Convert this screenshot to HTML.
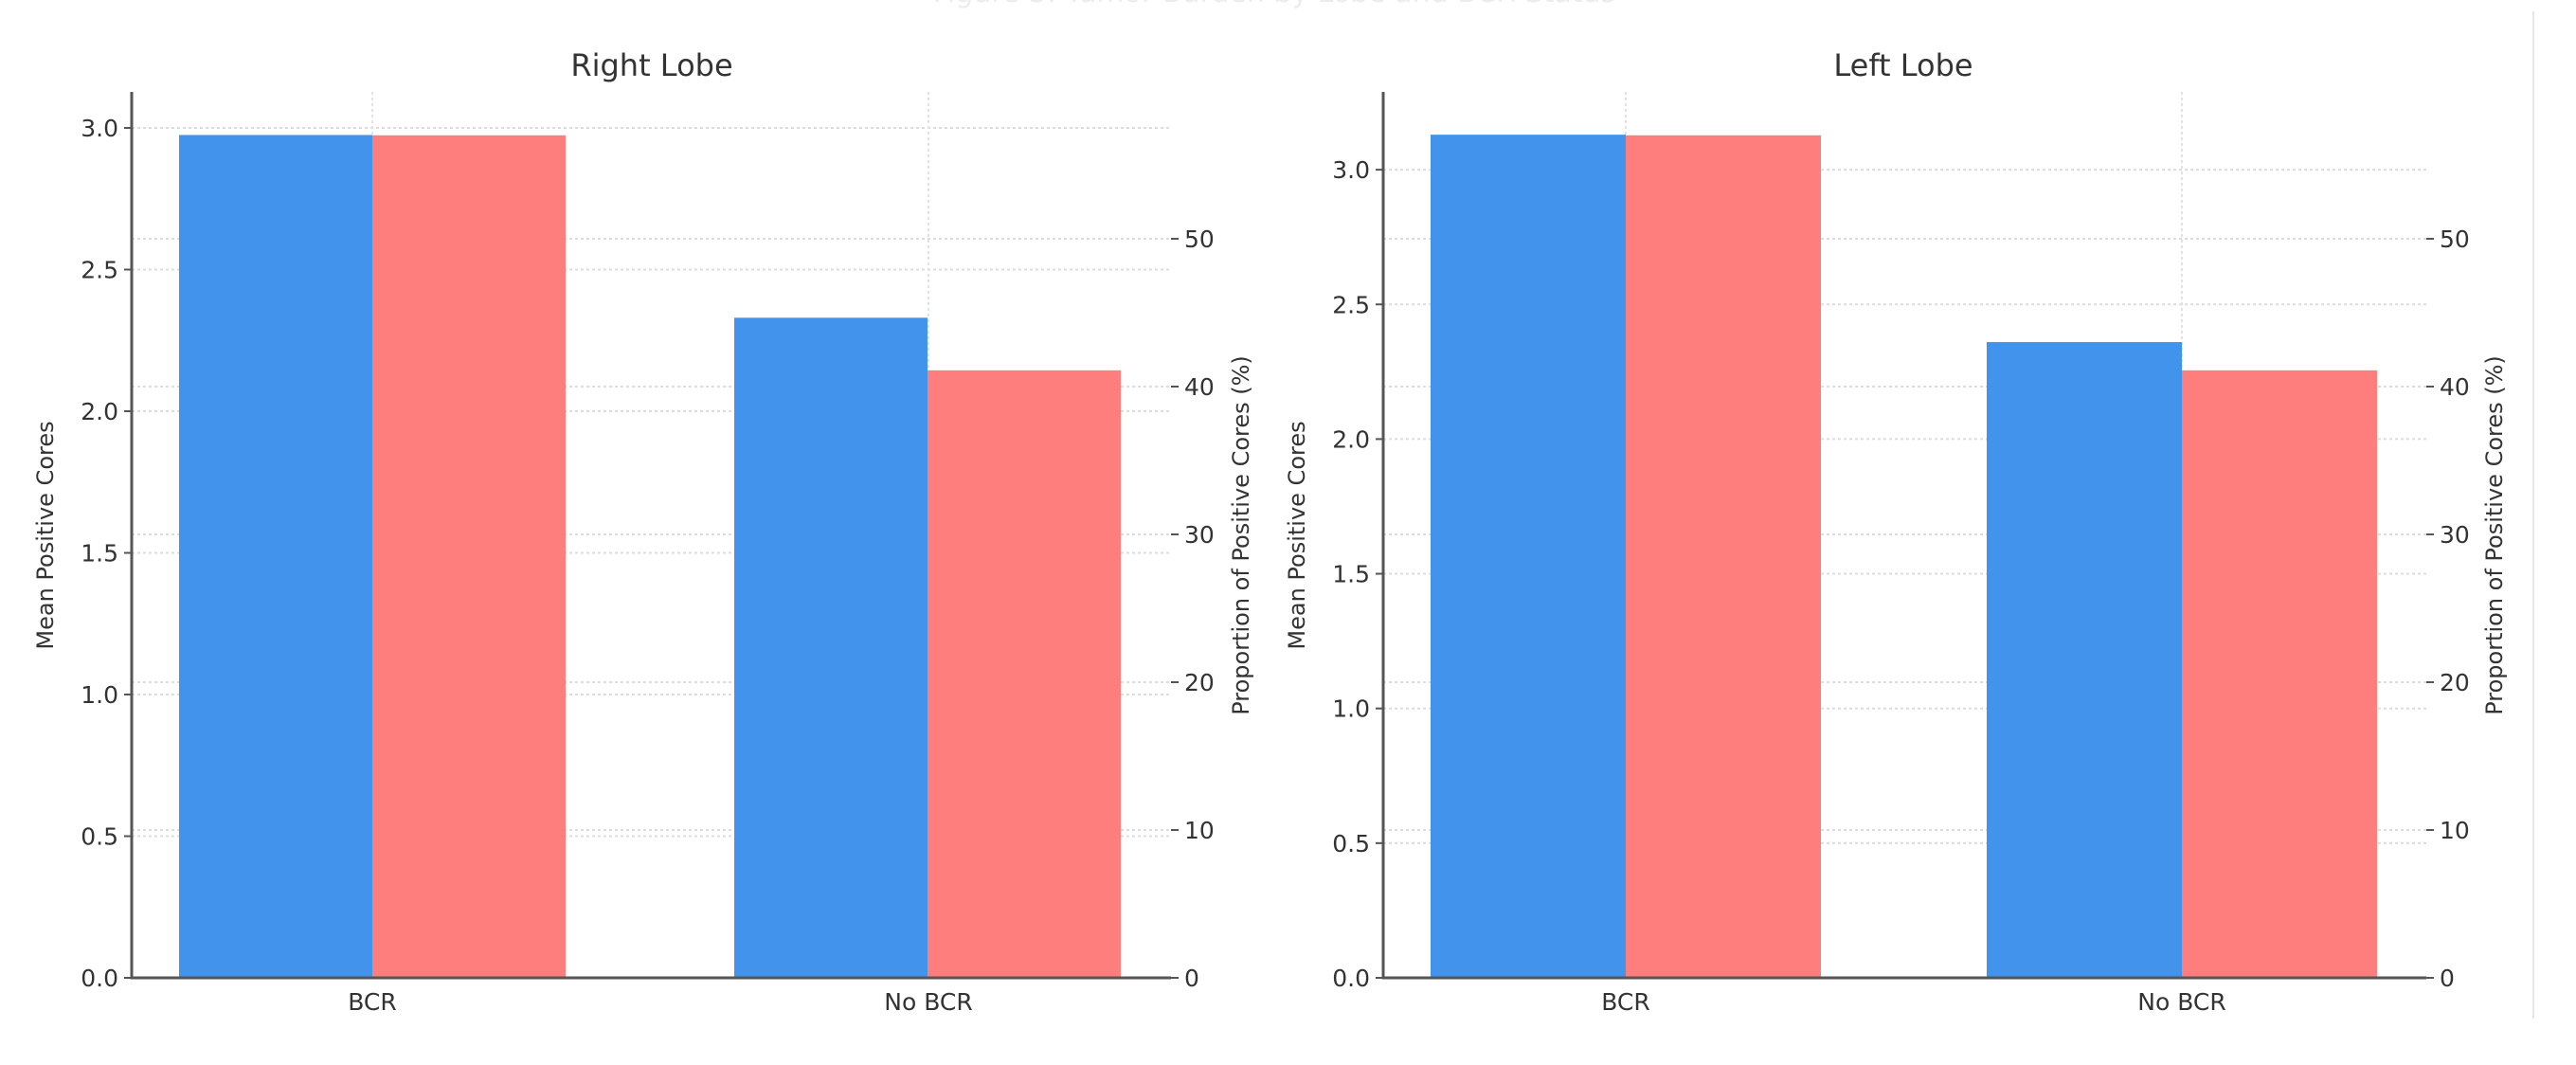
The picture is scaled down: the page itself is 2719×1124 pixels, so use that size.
<!DOCTYPE html>
<html><head><meta charset="utf-8"><style>
html,body{margin:0;padding:0;background:#fff;}
svg{display:block;font-family:"DejaVu Sans","Liberation Sans",sans-serif;}
</style></head><body>
<svg id="chart" width="2719" height="1124" viewBox="0 0 2719 1124">
<text x="1345" y="2" text-anchor="middle" font-size="30" fill="#ececec">Figure 3: Tumor Burden by Lobe and BCR Status</text>
<line x1="2674" y1="12" x2="2674" y2="1075" stroke="#e6e6e6" stroke-width="2"/>
</svg>
<script>
const categories = ["BCR", "No BCR"];
const panelTitles = ["Right Lobe", "Left Lobe"];
const meanRight = [2.975, 2.33];
const pctRight = [57.0, 41.1];
const meanLeft = [3.13, 2.36];
const pctLeft = [57.0, 41.1];
const leftTicks = [0, 0.5, 1.0, 1.5, 2.0, 2.5, 3.0];
const leftTickLabels = ["0.0", "0.5", "1.0", "1.5", "2.0", "2.5", "3.0"];
const rightTicks = [0, 10, 20, 30, 40, 50];
const rightTickLabels = ["0", "10", "20", "30", "40", "50"];

const NS = "http://www.w3.org/2000/svg";
const svg = document.getElementById("chart");
function mk(tag, attrs, parent) {
  const e = document.createElementNS(NS, tag);
  for (const k in attrs) e.setAttribute(k, attrs[k]);
  (parent || svg).appendChild(e);
  return e;
}

const panels = [
  {x0: 139, x1: 1236, top: 97, bottom: 1032, pxUnit: 299, pxPct: 15.6, mean: meanRight, pct: pctRight, barL: [189, 775], barW: 204, catX: [393, 980], titleX: 688, ylabX: 48, y2labX: 1310, key: "right-lobe"},
  {x0: 1460, x1: 2561, top: 97, bottom: 1032, pxUnit: 284.3, pxPct: 15.6, mean: meanLeft, pct: pctLeft, barL: [1510, 2097], barW: 206, catX: [1716, 2303], titleX: 2009, ylabX: 1369, y2labX: 2633, key: "left-lobe"}
];

panels.forEach((p, pi) => {
  const g = mk("g", {});
  
  
  const yL = v => p.bottom - v * p.pxUnit;
  const yR = v => p.bottom - v * p.pxPct;

  leftTicks.forEach(t => {
    const l = mk("line", {x1: p.x0, x2: p.x1, y1: yL(t), y2: yL(t), stroke: "#dcdcdc", "stroke-width": 2, "stroke-dasharray": "3,3"}, g);
    
    
  });
  rightTicks.forEach(t => {
    const l = mk("line", {x1: p.x0, x2: p.x1, y1: yR(t), y2: yR(t), stroke: "#dcdcdc", "stroke-width": 2, "stroke-dasharray": "3,3"}, g);
    
    
  });
  p.catX.forEach(cx => {
    const l = mk("line", {x1: cx, x2: cx, y1: p.top, y2: p.bottom, stroke: "#e2e2e2", "stroke-width": 2, "stroke-dasharray": "3,3"}, g);
    
    
  });

  categories.forEach((c, i) => {
    const b1 = mk("rect", {x: p.barL[i], y: yL(p.mean[i]), width: p.barW, height: p.mean[i] * p.pxUnit, fill: "#4193ec"}, g);
    
    
    const b2 = mk("rect", {x: p.barL[i] + p.barW, y: yR(p.pct[i]), width: p.barW, height: p.pct[i] * p.pxPct, fill: "#fe7d7d"}, g);
    
    
    const t = mk("text", {x: p.catX[i], y: p.bottom + 34, "text-anchor": "middle", "font-size": 25, fill: "#333"}, g);
    t.textContent = c;
    
    
  });

  const ax = mk("path", {d: `M${p.x0} ${p.top} V${p.bottom} H${p.x1}`, fill: "none", stroke: "#555", "stroke-width": 3}, g);
  
  

  leftTicks.forEach((t, i) => {
    const tk = mk("line", {x1: p.x0 - 8, x2: p.x0, y1: yL(t), y2: yL(t), stroke: "#555", "stroke-width": 2}, g);
    
    
    const tx = mk("text", {x: p.x0 - 14, y: yL(t) + 9, "text-anchor": "end", "font-size": 25, fill: "#333"}, g);
    tx.textContent = leftTickLabels[i];
    
    
  });
  rightTicks.forEach((t, i) => {
    const tk = mk("line", {x1: p.x1, x2: p.x1 + 8, y1: yR(t), y2: yR(t), stroke: "#555", "stroke-width": 2}, g);
    
    
    const tx = mk("text", {x: p.x1 + 14, y: yR(t) + 9, "text-anchor": "start", "font-size": 25, fill: "#333"}, g);
    tx.textContent = rightTickLabels[i];
    
    
  });

  const ti = mk("text", {x: p.titleX, y: 80, "text-anchor": "middle", "font-size": 32, fill: "#333"}, g);
  ti.textContent = panelTitles[pi];
  
  

  const yl = mk("text", {x: 0, y: 0, "text-anchor": "middle", "font-size": 24, fill: "#333", transform: `translate(${p.ylabX + 8},565) rotate(-90)`}, g);
  yl.textContent = "Mean Positive Cores";
  
  

  const y2 = mk("text", {x: 0, y: 0, "text-anchor": "middle", "font-size": 24, fill: "#333", transform: `translate(${p.y2labX + 8},565) rotate(-90)`}, g);
  y2.textContent = "Proportion of Positive Cores (%)";
  
  
});
</script>
</body></html>
